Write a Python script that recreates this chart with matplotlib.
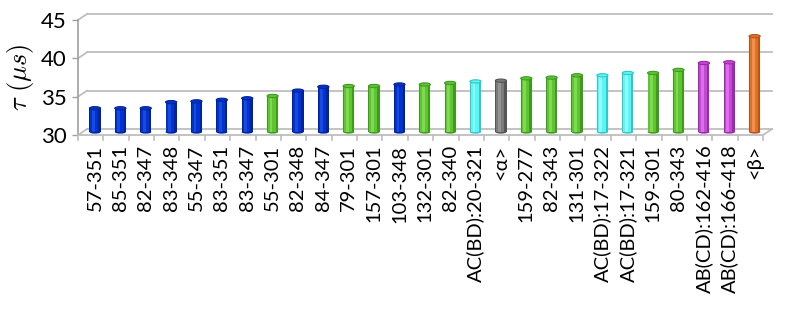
import matplotlib
matplotlib.use("Agg")
import matplotlib.pyplot as plt
from matplotlib.patches import Ellipse

plt.rcParams["mathtext.fontset"] = "cm"

categories = ["57-351", "85-351", "82-347", "83-348", "55-347", "83-351", "83-347",
              "55-301", "82-348", "84-347", "79-301", "157-301", "103-348", "132-301",
              "82-340", "AC(BD):20-321", "<\u03b1>", "159-277", "82-343", "131-301",
              "AC(BD):17-322", "AC(BD):17-321", "159-301", "80-343", "AB(CD):162-416",
              "AB(CD):166-418", "<\u03b2>"]
values = [33.1, 33.1, 33.1, 33.9, 34.0, 34.2, 34.4, 34.7, 35.4, 35.9, 36.0, 36.0,
          36.2, 36.2, 36.4, 36.6, 36.7, 37.0, 37.1, 37.4, 37.4, 37.7, 37.7, 38.1,
          39.0, 39.1, 42.5]
groups = ["b", "b", "b", "b", "b", "b", "b", "g", "b", "b", "g", "g", "b", "g",
          "g", "c", "k", "g", "g", "g", "c", "c", "g", "g", "m", "m", "o"]
yticks = [30, 35, 40, 45]

palette = {
    "b": ("#00229A", "#0033CC", "#2255EE"),
    "g": ("#3E9A22", "#5EC530", "#8EE35E"),
    "c": ("#2EC8C8", "#5CF5F5", "#A8FFFF"),
    "k": ("#555555", "#7A7A7A", "#A0A0A0"),
    "m": ("#9A2AAA", "#C845D8", "#E088EE"),
    "o": ("#B4541A", "#E07028", "#F4A060"),
}

W, H, DPI = 803, 312, 100
fig = plt.figure(figsize=(W / DPI, H / DPI), dpi=DPI)
ax = fig.add_axes([78 / W, (H - 135) / H, 685 / W, 115 / H])
n = len(categories)
ax.set_xlim(-0.5, n - 0.5)
ax.set_ylim(30, 45)
for s in ax.spines.values():
    s.set_visible(False)

# depth offsets in data units (back wall)
DX, DY = 0.355, 0.78
grid_c = "#BEBEBE"
axis_c = "#A0A0A0"

for yv in yticks:
    ax.plot([-0.5 + DX, n - 0.5 + DX], [yv + DY, yv + DY], color=grid_c, lw=1.3,
            clip_on=False, zorder=1)
    ax.plot([-0.5, -0.5 + DX], [yv, yv + DY], color=grid_c, lw=1.3, clip_on=False, zorder=1)
ax.plot([n - 0.5, n - 0.5 + DX], [30, 30 + DY], color=grid_c, lw=1.3, clip_on=False, zorder=1)
ax.plot([-0.5, -0.5], [30, 45], color=axis_c, lw=1.2, clip_on=False, zorder=2)
ax.plot([-0.5, n - 0.5], [30, 30], color=grid_c, lw=1.3, clip_on=False, zorder=2)
for k in range(n + 1):
    ax.plot([k - 0.5, k - 0.5], [30, 30 - 0.65], color=grid_c, lw=1.2, clip_on=False, zorder=2)

BX, BY = 0.17, 0.39
bw = 0.44
cap_h = 0.42
for i, (v, g) in enumerate(zip(values, groups)):
    dark, mid, light = palette[g]
    x = i + BX
    y0 = 30 + BY
    h = v - 30
    ax.bar(x, h, width=bw, bottom=y0, color=dark, lw=0, zorder=3, clip_on=False)
    ax.bar(x - 0.03, h, width=bw * 0.7, bottom=y0, color=mid, lw=0, zorder=4, clip_on=False)
    ax.bar(x - 0.06, h, width=bw * 0.25, bottom=y0, color=light, lw=0, zorder=5,
           clip_on=False, alpha=0.7)
    ax.add_patch(Ellipse((x, y0), bw, cap_h, color=dark, lw=0, zorder=3, clip_on=False))
    ax.add_patch(Ellipse((x, y0 + h), bw, cap_h, facecolor=mid, edgecolor=dark, lw=0.8,
                         zorder=6, clip_on=False))

ax.set_yticks(yticks)
ax.set_yticklabels([str(t) for t in yticks], fontsize=16, family=["Lato", "DejaVu Sans"])
ax.tick_params(axis="y", length=4, width=1, color=axis_c, pad=4)

ax.set_xticks([i + BX for i in range(n)])
ax.set_xticklabels(categories, rotation=90, fontsize=14.5, family=["Lato", "DejaVu Sans"],
                   va="top", ha="center")
ax.tick_params(axis="x", length=0, pad=7)

ax.set_ylabel(r"$\tau\ (\mu s)$", fontsize=19, labelpad=4)

fig.savefig("out.png", dpi=DPI)
